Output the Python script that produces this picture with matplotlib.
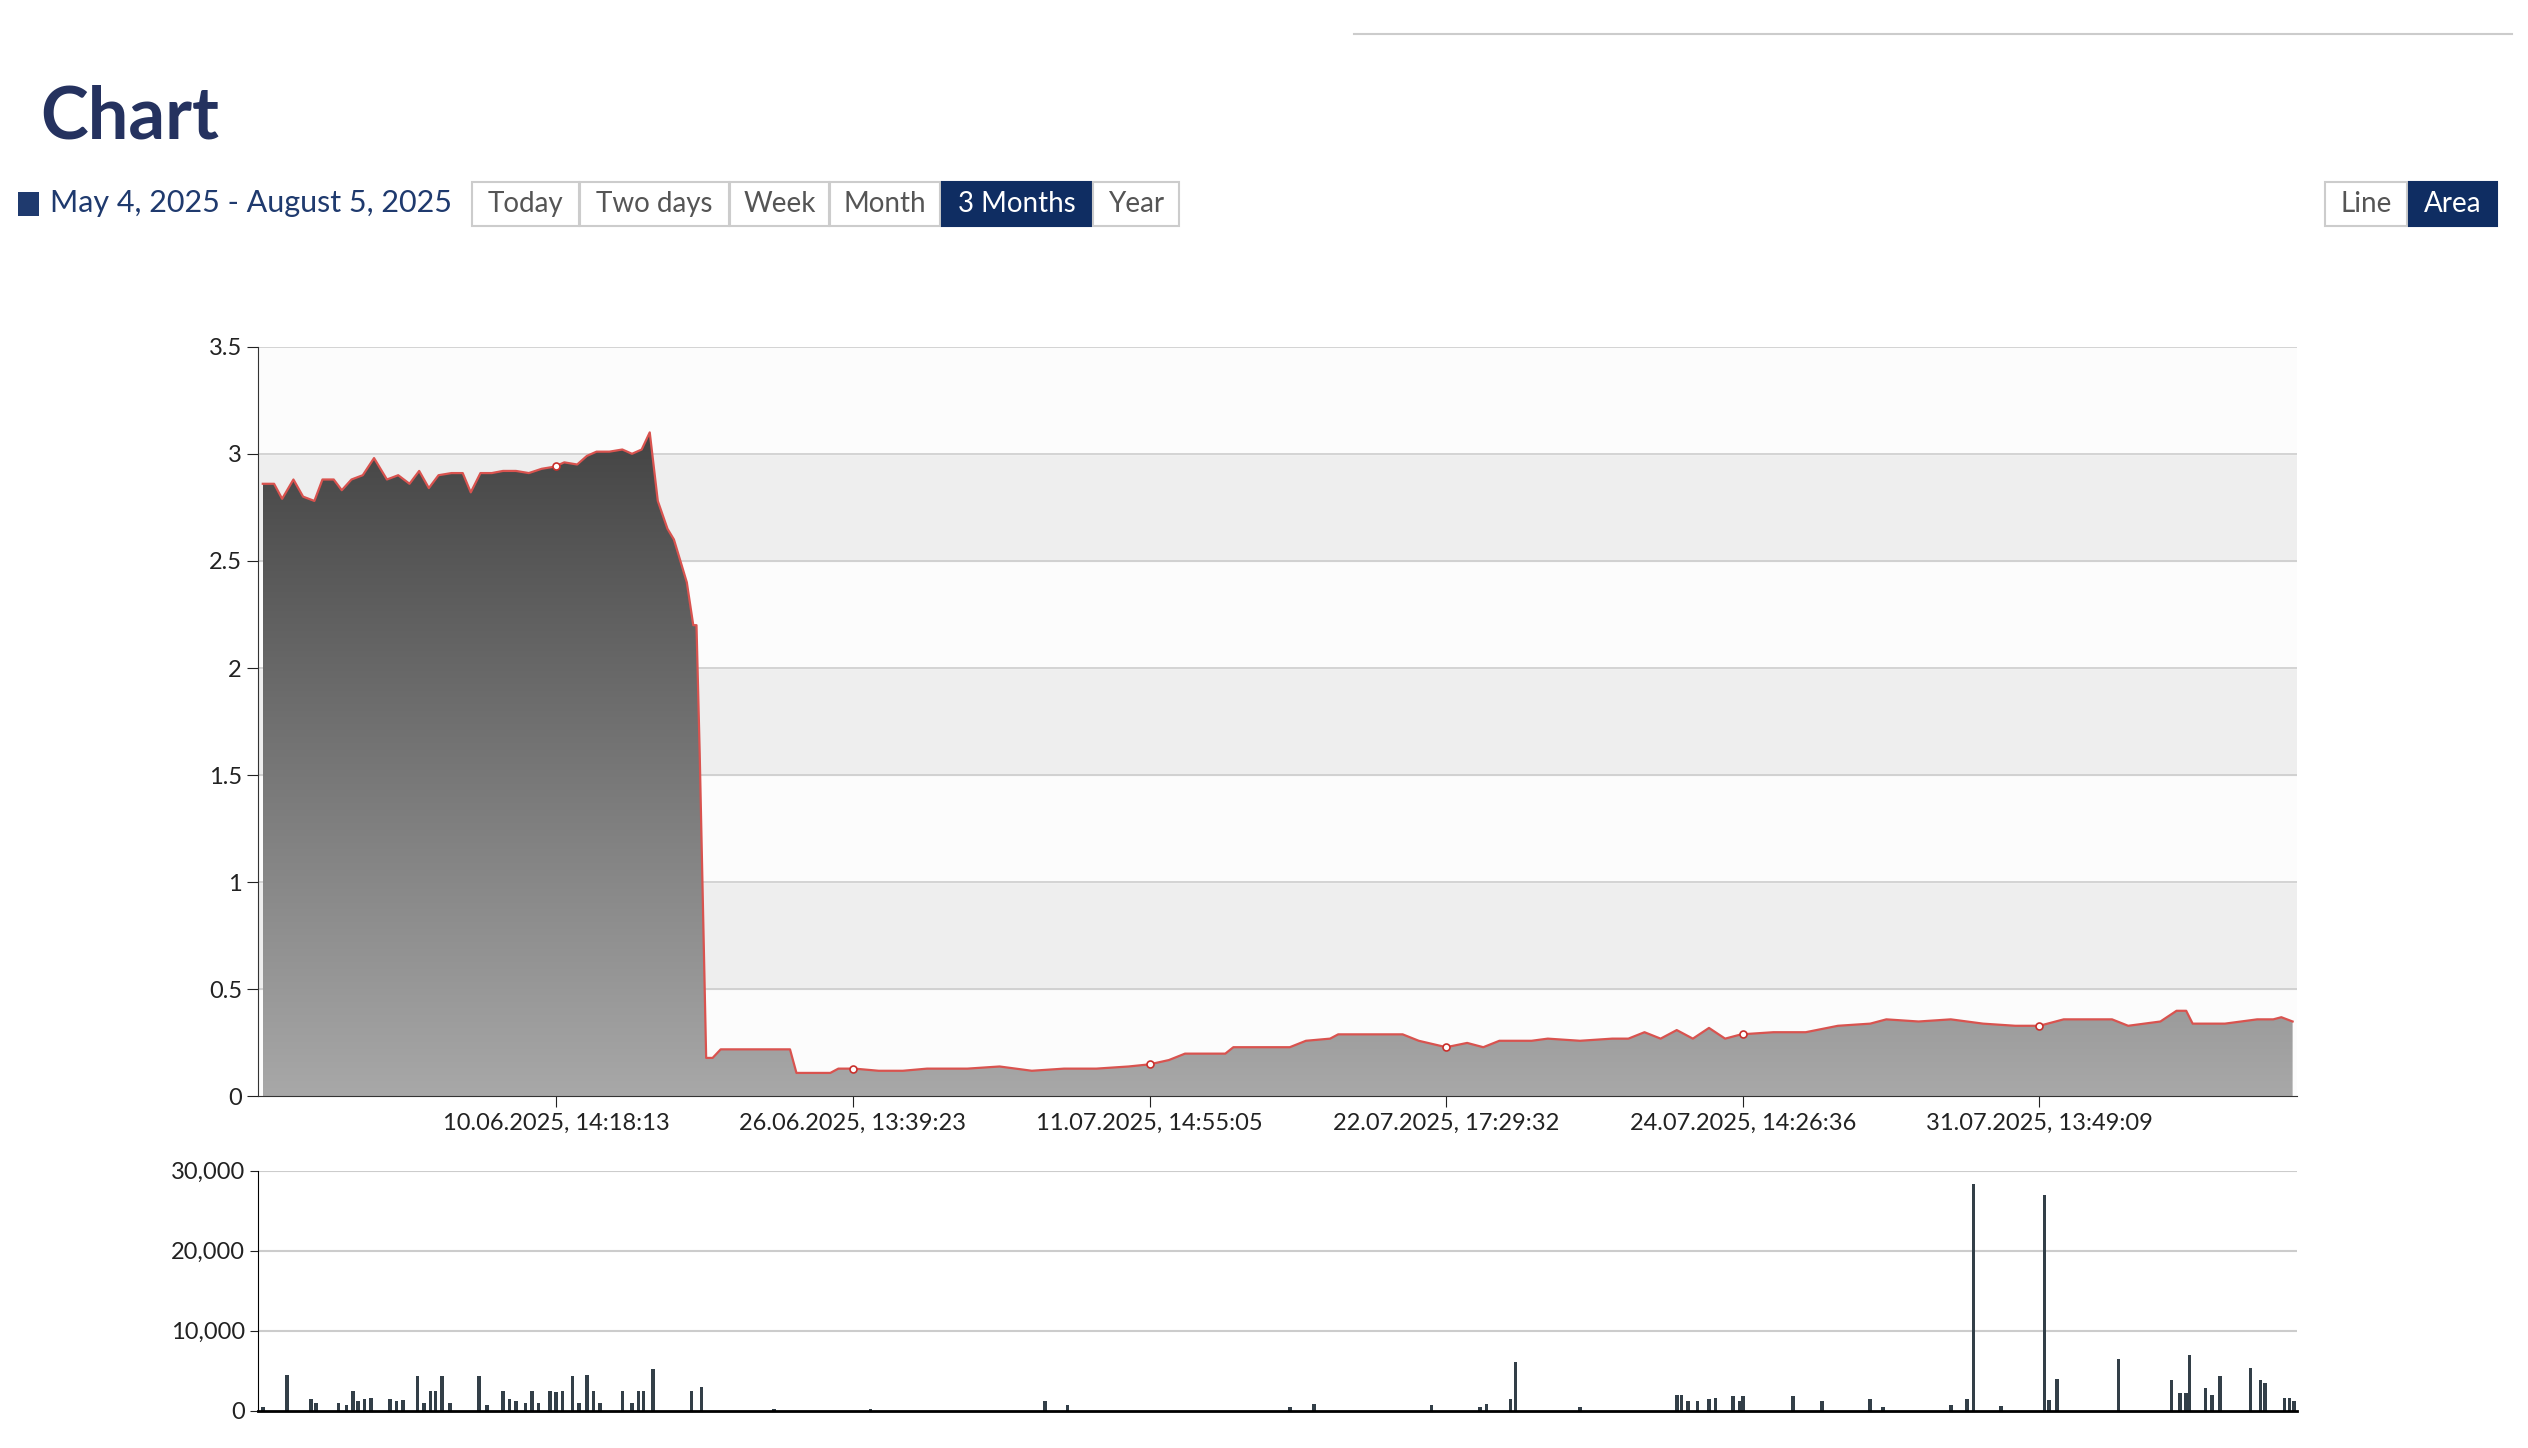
import numpy as np
import matplotlib.pyplot as plt
from matplotlib.patches import Rectangle, Polygon
from matplotlib.ticker import FuncFormatter

plt.rcParams['font.family'] = ['Lato', 'DejaVu Sans']

# price samples: (sample index, value)
price_idx = [3, 10, 15, 22, 28, 35, 40, 47, 52, 58, 65, 72, 80, 87, 94, 100, 106, 112, 120, 127,
             132, 138, 145, 152, 160, 168, 176, 184, 190, 198, 204, 210, 218, 226, 232, 238, 243,
             248, 254, 258, 262, 266, 270, 272, 274, 278, 282, 287, 295, 310, 325, 330, 334, 340,
             355, 360, 370, 385, 400, 415, 440, 460, 480, 500, 520, 540, 553, 565, 575, 600, 605,
             640, 650, 665, 670, 710, 720, 737, 750, 760, 770, 790, 800, 820, 840, 850, 860, 870,
             880, 890, 900, 910, 920, 940, 960, 980, 1000, 1010, 1030, 1050, 1070, 1090, 1105,
             1120, 1140, 1150, 1160, 1180, 1190, 1196, 1200, 1220, 1240, 1250, 1255, 1262]
price_val = [2.86, 2.86, 2.79, 2.88, 2.80, 2.78, 2.88, 2.88, 2.83, 2.88, 2.90, 2.98, 2.88, 2.90,
             2.86, 2.92, 2.84, 2.90, 2.91, 2.91, 2.82, 2.91, 2.91, 2.92, 2.92, 2.91, 2.93, 2.94,
             2.96, 2.95, 2.99, 3.01, 3.01, 3.02, 3.00, 3.02, 3.10, 2.78, 2.65, 2.60, 2.50, 2.40,
             2.20, 2.20, 1.60, 0.18, 0.18, 0.22, 0.22, 0.22, 0.22, 0.22, 0.11, 0.11, 0.11, 0.13,
             0.13, 0.12, 0.12, 0.13, 0.13, 0.14, 0.12, 0.13, 0.13, 0.14, 0.15, 0.17, 0.20, 0.20,
             0.23, 0.23, 0.26, 0.27, 0.29, 0.29, 0.26, 0.23, 0.25, 0.23, 0.26, 0.26, 0.27, 0.26,
             0.27, 0.27, 0.30, 0.27, 0.31, 0.27, 0.32, 0.27, 0.29, 0.30, 0.30, 0.33, 0.34, 0.36,
             0.35, 0.36, 0.34, 0.33, 0.33, 0.36, 0.36, 0.36, 0.33, 0.35, 0.40, 0.40, 0.34, 0.34,
             0.36, 0.36, 0.37, 0.35]

tick_idx = [185, 369, 553, 737, 921, 1105]
tick_labels = ['10.06.2025, 14:18:13', '26.06.2025, 13:39:23', '11.07.2025, 14:55:05',
               '22.07.2025, 17:29:32', '24.07.2025, 14:26:36', '31.07.2025, 13:49:09']

vol_idx = [3, 18, 33, 36, 50, 55, 59, 62, 66, 70, 82, 86, 90, 99, 103, 107, 110, 114, 119, 137,
           142, 152, 156, 160, 166, 170, 174, 181, 185, 189, 195, 199, 204, 208, 212, 226, 232,
           236, 239, 245, 269, 275, 320, 380, 488, 502, 640, 655, 728, 758, 762, 777, 780, 820,
           880, 883, 887, 893, 900, 904, 915, 919, 921, 952, 970, 1000, 1008, 1050, 1060, 1064,
           1081, 1108, 1111, 1116, 1154, 1187, 1192, 1196, 1198, 1208, 1212, 1217, 1236, 1242,
           1245, 1257, 1260, 1263]
vol_val = [500, 4500, 1500, 1000, 1000, 800, 2500, 1200, 1500, 1600, 1500, 1200, 1400, 4300,
           1000, 2500, 2500, 4300, 1000, 4300, 800, 2500, 1500, 1200, 1000, 2500, 1000, 2500,
           2400, 2500, 4300, 1000, 4500, 2500, 1000, 2500, 1000, 2500, 2500, 5200, 2500, 3000,
           300, 200, 1200, 800, 500, 900, 700, 500, 900, 1500, 6100, 500, 2000, 2000, 1200, 1200,
           1500, 1600, 1800, 1200, 1800, 1800, 1300, 1500, 500, 800, 1500, 28300, 600, 27000,
           1400, 4000, 6500, 3900, 2200, 2200, 7000, 2900, 2000, 4400, 5300, 3800, 3500, 1600,
           1600, 1300]

fig = plt.figure(figsize=(25.28, 14.48), dpi=100)
W, H = 1568.0, 898.0

def fx(x): return x / W
def fy(y): return 1 - y / H

# header
fig.add_artist(plt.Line2D([fx(840), fx(1558)], [fy(21), fy(21)], color='#cccccc', lw=1.5))
fig.text(fx(25), fy(73), 'Chart', fontsize=52, fontweight='bold', color='#25325f', va='center')
fig.add_artist(Rectangle((fx(11), fy(134)), fx(13), 15 / H, facecolor='#1f3a6e'))
fig.text(fx(31), fy(126), 'May 4, 2025 - August 5, 2025', fontsize=22, color='#1f3a6e', va='center')

buttons = [('Today', 293, 359), ('Two days', 360, 452), ('Week', 453, 514), ('Month', 515, 583),
           ('3 Months', 584, 677), ('Year', 678, 731), ('Line', 1442, 1493), ('Area', 1494, 1549)]
active = ['3 Months', 'Area']
for name, x0, x1 in buttons:
    on = name in active
    fig.add_artist(Rectangle((fx(x0), fy(140)), fx(x1 - x0), 27 / H,
                             facecolor='#0f2d62' if on else 'white',
                             edgecolor='#0f2d62' if on else '#cccccc', lw=1.5))
    fig.text(fx((x0 + x1) / 2), fy(126.5), name, fontsize=20, ha='center', va='center',
             color='white' if on else '#555555')

# main chart
ax = fig.add_axes([fx(160), fy(680), fx(1265), (680 - 215) / H])
for i in range(7):
    ax.axhspan(i * 0.5, (i + 1) * 0.5, color='#eeeeee' if i % 2 else '#fcfcfc', zorder=0)
for y in np.arange(0.5, 3.6, 0.5):
    ax.axhline(y, color='#cccccc', lw=1.2, zorder=1)

xs = np.array(price_idx)
ys = np.array(price_val)
poly = Polygon(np.column_stack([np.r_[xs[0], xs, xs[-1]], np.r_[0, ys, 0]]), closed=True,
               facecolor='none', edgecolor='none')
ax.add_patch(poly)
grad = np.linspace(0, 1, 256).reshape(-1, 1)
im = ax.imshow(grad, extent=[xs[0], xs[-1], 0, 3.1], origin='lower', aspect='auto',
               cmap=plt.matplotlib.colors.LinearSegmentedColormap.from_list('g', ['#a8a8a8', '#444444']),
               zorder=2)
im.set_clip_path(poly)
ax.plot(xs, ys, color='#d9534f', lw=1.6, zorder=3)
ax.plot(tick_idx, np.interp(tick_idx, xs, ys), 'o', ms=5, mfc='white', mec='#c9302c', mew=1.2, zorder=4)

ax.set_xlim(0, 1265)
ax.set_ylim(0, 3.5)
ax.set_yticks(np.arange(0, 3.6, 0.5))
ax.set_yticklabels(['0', '0.5', '1', '1.5', '2', '2.5', '3', '3.5'])
ax.set_xticks(tick_idx)
ax.set_xticklabels(tick_labels)
ax.tick_params(labelsize=17, colors='#222222', length=8)
for s in ['top', 'right']:
    ax.spines[s].set_visible(False)
ax.spines['left'].set_color('#333333')
ax.spines['bottom'].set_color('#333333')

# volume chart
av = fig.add_axes([fx(160), fy(875), fx(1265), (875 - 726) / H])
for y in [10000, 20000, 30000]:
    av.axhline(y, color='#cccccc', lw=1.5, zorder=0)
av.bar(vol_idx, vol_val, width=2.2, color='#333f48', zorder=2)
av.set_xlim(0, 1265)
av.set_ylim(0, 30000)
av.set_yticks([0, 10000, 20000, 30000])
av.yaxis.set_major_formatter(FuncFormatter(lambda v, p: f'{int(v):,}'))
av.set_xticks([])
av.tick_params(labelsize=17, colors='#222222', length=6)
for s in ['top', 'right']:
    av.spines[s].set_visible(False)
av.spines['bottom'].set_linewidth(2)

fig.savefig('out.png')
